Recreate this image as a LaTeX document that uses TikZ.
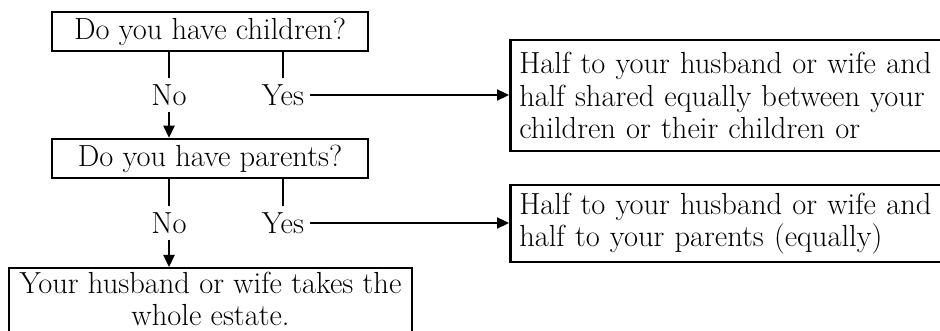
\documentclass[tikz,border=0pt]{standalone}
\usepackage{tikz}
\usetikzlibrary{arrows.meta, positioning}

\begin{document}
\begin{tikzpicture}[
    x=1pt, y=-1pt,
    every node/.style={font=\fontsize{30.5}{32.5}\selectfont},
    qnode/.style={
        rectangle,
        draw=black,
        line width=2.5pt,
        minimum width=316pt,
        minimum height=39pt,
        inner sep=0pt
    },
    ansnode/.style={
        rectangle,
        draw=black,
        line width=2.5pt,
        text width=425pt,
        align=left,
        inner xsep=9pt,
        inner ysep=7pt,
        anchor=north west
    },
    lbl/.style={inner sep=6pt}
]

\clip (0,0) rectangle (940,331);

\node[qnode] (children) at (210,31.5) {Do you have children?};
\node[qnode] (parents) at (210,158.5) {Do you have parents?};
\node[ansnode, minimum height=111pt] (childshare) at (509,39)
    {Half to your husband or wife and\\half shared equally between your\\children or their children or};
\node[ansnode, minimum height=77pt] (parentshare) at (509,184)
    {Half to your husband or wife and\\half to your parents (equally)};
% box runs on below the lower edge
\node[rectangle, draw=black, line width=2.5pt, minimum width=403pt,
    inner ysep=4pt, align=center, anchor=north,
    font=\fontsize{30.5}{32}\selectfont] (spouse) at (210.5,267)
    {Your husband or wife takes the\\whole estate.\rule[-16pt]{0pt}{16pt}};

\node[lbl] (no1) at (169,95) {No};
\node[lbl] (yes1) at (283,95) {Yes};
\node[lbl] (no2) at (169,223) {No};
\node[lbl] (yes2) at (283,223) {Yes};

\draw[line width=2.3pt] (children.south -| no1) -- (no1);
\draw[line width=2.3pt] (children.south -| yes1) -- (yes1);
\draw[-{Triangle[length=12pt,width=11pt]}, line width=2.3pt] (no1) -- (parents.north -| no1);
\draw[-{Triangle[length=12pt,width=11pt]}, line width=2.3pt] (yes1.east) -- (yes1.east -| childshare.west);

\draw[line width=2.3pt] (parents.south -| no2) -- (no2);
\draw[line width=2.3pt] (parents.south -| yes2) -- (yes2);
\draw[-{Triangle[length=12pt,width=11pt]}, line width=2.3pt] (no2) -- (spouse.north -| no2);
\draw[-{Triangle[length=12pt,width=11pt]}, line width=2.3pt] (yes2.east) -- (yes2.east -| parentshare.west);

\end{tikzpicture}
\end{document}
